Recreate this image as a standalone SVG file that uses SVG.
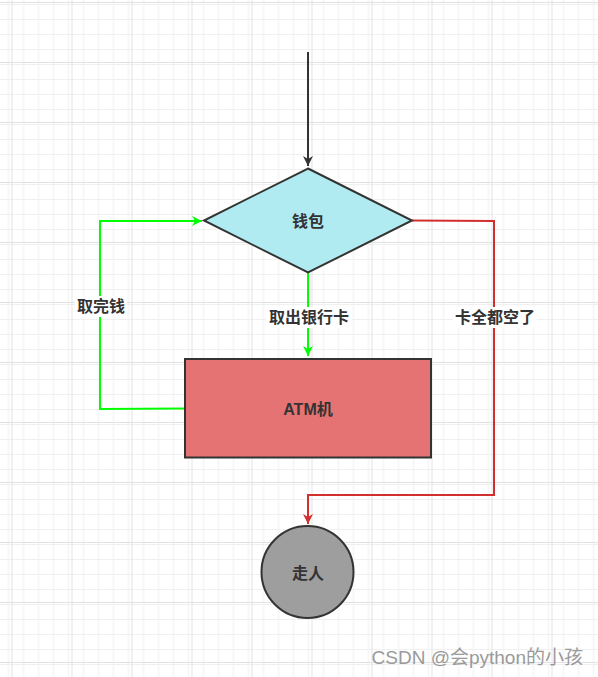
<svg xmlns="http://www.w3.org/2000/svg" width="598" height="677" viewBox="0 0 598 677">
<defs>
<pattern id="minor" width="15" height="15" patternUnits="userSpaceOnUse" x="11.5" y="2">
<path d="M0 0.5H15M0.5 0V15" fill="none" stroke="#f0f0f0" stroke-width="1"/>
</pattern>
<pattern id="major" width="60" height="60" patternUnits="userSpaceOnUse" x="11.5" y="2">
<rect width="60" height="60" fill="url(#minor)"/>
<path d="M0 0.5H60M0.5 0V60" fill="none" stroke="#e2e2e2" stroke-width="1"/>
</pattern>
<marker id="aDark" markerWidth="10" markerHeight="12" refX="10" refY="6" orient="auto" markerUnits="userSpaceOnUse">
<path d="M0 1 L10 6 L0 11 L3 6 Z" fill="#333333"/>
</marker>
<marker id="aGreen" markerWidth="10" markerHeight="12" refX="10" refY="6" orient="auto" markerUnits="userSpaceOnUse">
<path d="M0 1 L10 6 L0 11 L3 6 Z" fill="#00ff00"/>
</marker>
<marker id="aRed" markerWidth="10" markerHeight="12" refX="10" refY="6" orient="auto" markerUnits="userSpaceOnUse">
<path d="M0 1 L10 6 L0 11 L3 6 Z" fill="#d32f2f"/>
</marker>
</defs>
<style>
.node{stroke:#333333;stroke-width:2}
.t{font-family:"Liberation Sans","Noto Sans CJK SC",sans-serif;font-size:16px;font-weight:bold;fill:#333333;text-anchor:middle;dominant-baseline:central}
.lbl{fill:#ffffff}
.edge{fill:none;stroke-width:2}
</style>
<rect width="598" height="677" fill="#ffffff"/>
<rect width="598" height="677" fill="url(#major)"/>
<g id="connectors">
<path class="edge" d="M308 52 V166" stroke="#333333" marker-end="url(#aDark)"/>
<path class="edge" d="M308 273 V356" stroke="#00ff00" marker-end="url(#aGreen)"/>
<path class="edge" d="M185 408.5 L100 409 V221 H202" stroke="#00ff00" marker-end="url(#aGreen)"/>
<path class="edge" d="M412 220.5 L494 221 V495 H308 V524" stroke="#d32f2f" marker-end="url(#aRed)"/>
<rect class="lbl" x="266" y="307" width="86" height="21"/>
<text class="t" x="309" y="317">取出银行卡</text>
<rect class="lbl" x="75" y="296" width="52" height="21"/>
<text class="t" x="101" y="306">取完钱</text>
<rect class="lbl" x="453" y="307" width="84" height="21"/>
<text class="t" x="495" y="317">卡全都空了</text>
</g>
<g id="wallet">
<path class="node" d="M308 168.5 L412 220.5 L308 272.5 L204 220.5 Z" fill="#b1ebf2"/>
<text class="t" x="308" y="221">钱包</text>
</g>
<g id="atm">
<rect class="node" x="185" y="359" width="246" height="98.5" fill="#e57373"/>
<text class="t" x="308" y="409">ATM机</text>
</g>
<g id="leave">
<circle class="node" cx="307.5" cy="572" r="46" fill="#9e9e9e"/>
<text class="t" x="308" y="573">走人</text>
</g>
<text x="583" y="657" font-family="Liberation Sans,'Noto Sans CJK SC',sans-serif" font-size="19" fill="#9a9a9a" text-anchor="end" dominant-baseline="central">CSDN @会python的小孩</text>
</svg>
